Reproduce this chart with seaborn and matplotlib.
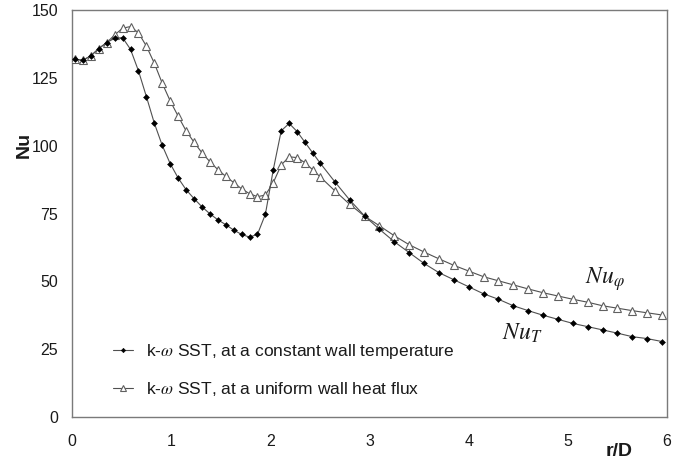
import matplotlib
matplotlib.use("Agg")
import matplotlib.pyplot as plt
import seaborn as sns
import pandas as pd

# r/D sample positions (finer spacing near the stagnation region)
r_over_d = [0.03, 0.11, 0.19, 0.27, 0.35, 0.43, 0.51, 0.59, 0.67, 0.75,
            0.83, 0.91, 0.99, 1.07, 1.15, 1.23, 1.31, 1.39, 1.47, 1.55,
            1.63, 1.71, 1.79, 1.87, 1.95, 2.03, 2.11, 2.19, 2.27, 2.35,
            2.43, 2.50, 2.65, 2.80, 2.95, 3.10, 3.25, 3.40, 3.55, 3.70,
            3.85, 4.00, 4.15, 4.30, 4.45, 4.60, 4.75, 4.90, 5.05, 5.20,
            5.35, 5.50, 5.65, 5.80, 5.95]

# Nusselt number, constant wall temperature (Nu_T)
nu_const_temp = [131.8, 131.5, 133.1, 135.8, 138.0, 139.6, 139.8, 135.5, 127.6, 118.1,
                 108.3, 100.1, 93.4, 88.1, 83.8, 80.5, 77.5, 74.9, 72.7, 70.9,
                 68.9, 67.3, 66.3, 67.3, 74.7, 91.2, 105.5, 108.2, 105.2, 101.2,
                 97.2, 93.7, 86.7, 80.0, 74.1, 69.2, 64.6, 60.6, 56.6, 53.2,
                 50.6, 48.0, 45.4, 43.4, 41.0, 39.2, 37.5, 36.0, 34.5, 33.3,
                 32.1, 30.9, 29.6, 28.9, 27.8]

# Nusselt number, uniform wall heat flux (Nu_phi)
nu_uniform_flux = [131.8, 131.5, 133.1, 135.8, 138.0, 140.8, 143.3, 143.9, 141.6, 136.7,
                   130.4, 123.0, 116.5, 110.9, 105.5, 101.3, 97.4, 94.1, 91.2, 88.7,
                   86.4, 84.1, 82.3, 81.2, 81.8, 86.4, 92.9, 95.9, 95.6, 93.7,
                   91.0, 88.6, 83.4, 78.4, 74.0, 70.5, 66.8, 63.5, 60.8, 58.3,
                   55.9, 53.8, 51.7, 50.2, 48.7, 47.2, 45.8, 44.6, 43.4, 42.3,
                   41.0, 40.1, 39.2, 38.4, 37.6]

x_ticks = [0, 1, 2, 3, 4, 5, 6]
y_ticks = [0, 25, 50, 75, 100, 125, 150]

label_temp = r"k-$\omega$ SST, at a constant wall temperature"
label_flux = r"k-$\omega$ SST, at a uniform wall heat flux"

sns.set_theme(style="white")
plt.rcParams["font.family"] = ["Liberation Sans", "DejaVu Sans"]
plt.rcParams["mathtext.fontset"] = "stix"

df = pd.DataFrame({"r/D": r_over_d, "NuT": nu_const_temp, "Nuq": nu_uniform_flux})

fig = plt.figure(figsize=(6.83, 4.59), dpi=100)
ax = fig.add_axes([72 / 683, 1 - 417 / 459, 595 / 683, 407 / 459])

line_grey = "#505050"
sns.lineplot(data=df, x="r/D", y="Nuq", ax=ax, color=line_grey, lw=0.8,
             marker="^", markersize=5.8, markerfacecolor="white",
             markeredgecolor="#606060", markeredgewidth=0.8,
             label=label_flux, legend=False, zorder=3)
sns.lineplot(data=df, x="r/D", y="NuT", ax=ax, color=line_grey, lw=0.8,
             marker="D", markersize=3.0, markerfacecolor="black",
             markeredgecolor="black", markeredgewidth=0.4,
             label=label_temp, legend=False, zorder=4)

ax.set_xlim(0, 6)
ax.set_ylim(0, 150)
ax.set_xticks(x_ticks)
ax.set_yticks(y_ticks)
ax.set_xlabel("")
ax.set_ylabel("")

spine_col = "#7a7a7a"
for s in ax.spines.values():
    s.set_color(spine_col)
    s.set_linewidth(1.0)
ax.tick_params(axis="both", direction="in", length=4, width=0.8,
               color=spine_col, labelsize=11.5, labelcolor="#1a1a1a")
ax.tick_params(axis="x", pad=12)
ax.tick_params(axis="y", pad=10)

# legend: temperature entry first, then heat flux
handles, labels = ax.get_legend_handles_labels()
order = [labels.index(label_temp), labels.index(label_flux)]
leg = ax.legend([handles[i] for i in order], [labels[i] for i in order],
                loc="center left", bbox_to_anchor=(113 / 683, 1 - 370 / 459),
                bbox_transform=fig.transFigure, frameon=False, fontsize=12.5,
                markerscale=0.75, handlelength=1.15, handletextpad=0.75,
                labelspacing=1.1, borderpad=0, borderaxespad=0)
for t in leg.get_texts():
    t.set_color("#1a1a1a")

# curve labels
ax.text(5.17, 49.0, r"$Nu_{\varphi}$", fontsize=17, ha="left", va="baseline", color="#1a1a1a")
ax.text(4.34, 28.4, r"$Nu_{T}$", fontsize=17, ha="left", va="baseline", color="#1a1a1a")

# axis titles
fig.text(24 / 683, 1 - 145 / 459, "Nu", rotation=90, ha="center", va="center",
         fontsize=14, fontweight="bold", color="#1a1a1a")
fig.text(619 / 683, 1 - 452 / 459, "r/D", ha="center", va="center",
         fontsize=14, fontweight="bold", color="#1a1a1a")

fig.savefig("out.png", dpi=100)
